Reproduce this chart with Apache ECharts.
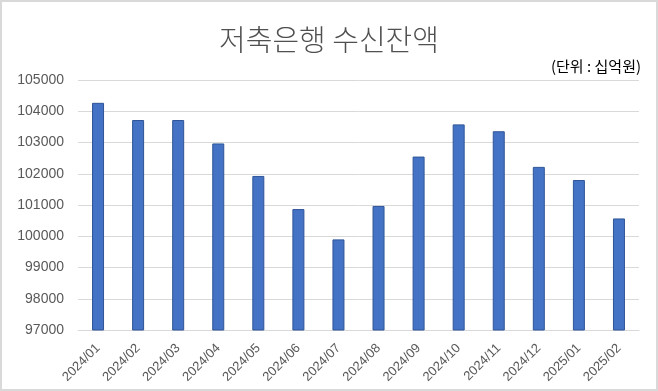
<!DOCTYPE html>
<html><head><meta charset="utf-8">
<script src="https://cdn.jsdelivr.net/npm/echarts@6/dist/echarts.min.js"></script>
<style>html,body{margin:0;padding:0;background:#fff}#c{width:654px;height:387px;border:2px solid #d9d9d9;box-sizing:content-box}</style>
</head><body><div id="c"></div>
<script>
const categories = ['2024/01','2024/02','2024/03','2024/04','2024/05','2024/06','2024/07','2024/08','2024/09','2024/10','2024/11','2024/12','2025/01','2025/02'];
const balances = [104270, 103720, 103720, 102970, 101930, 100870, 99900, 100970, 102550, 103580, 103360, 102220, 101800, 100570];
const yTicks = [97000, 105000, 1000];
const title = '저축은행 수신잔액';
const unitLabel = '(단위 : 십억원)';

const chart = echarts.init(document.getElementById('c'), null, {renderer:'canvas'});
chart.setOption({
  animation:false,
  title:[{text:title,left:'center',top:18,textStyle:{fontFamily:'Noto Sans CJK KR',fontSize:29,fontWeight:300,color:'#505050'}},
         {text:unitLabel,right:10,top:52,textStyle:{fontFamily:'Noto Sans CJK KR',fontSize:15,fontWeight:'normal',color:'#000'}}],
  grid:{left:76,right:17,top:78,bottom:59,containLabel:false},
  xAxis:{type:'category',data:categories,
    axisLine:{lineStyle:{color:'#d9d9d9'}},axisTick:{show:false},
    axisLabel:{rotate:45,color:'#595959',fontSize:13,fontFamily:'Liberation Sans',margin:16,interval:0}},
  yAxis:{type:'value',min:yTicks[0],max:yTicks[1],interval:yTicks[2],
    axisLine:{show:false},axisTick:{show:false},
    splitLine:{lineStyle:{color:'#d9d9d9',width:1}},
    axisLabel:{color:'#595959',fontSize:14,fontFamily:'Liberation Sans',margin:14,formatter:v=>String(v)}},
  series:[{type:'bar',data:balances,barWidth:12,
    itemStyle:{color:'#4472c4',borderColor:'#2f5597',borderWidth:1}}]
});
</script></body></html>
